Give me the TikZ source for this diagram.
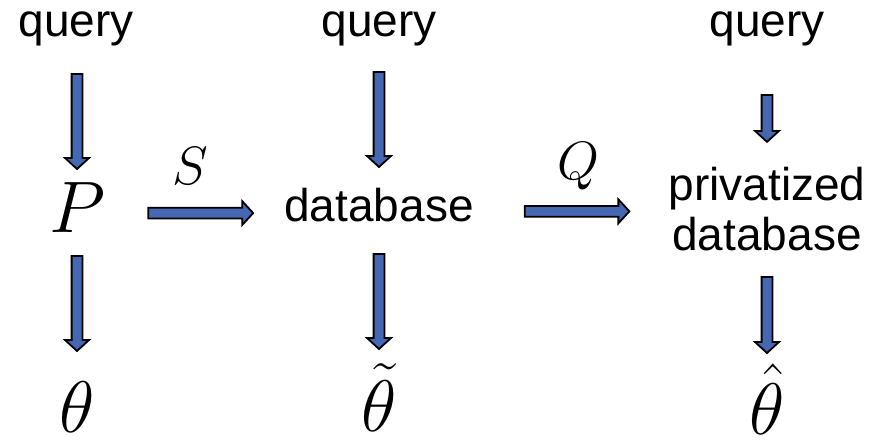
\RequirePackage{fix-cm}
\documentclass[tikz,border=0pt]{standalone}
\usepackage{amsmath}
\usepackage[no-math]{fontspec}
\setmainfont{Liberation Sans}
\usepackage{tikz}
\usetikzlibrary{calc}
\definecolor{arrowblue}{RGB}{70,104,178}
\tikzset{
  txt/.style={inner sep=0pt, font=\fontsize{46}{50}\selectfont, align=center},
  sym/.style={inner sep=0pt, font=\fontsize{54}{60}\selectfont},
  big/.style={inner sep=0pt, font=\fontsize{73}{80}\selectfont},
  blk/.style 2 args={draw=black, fill=arrowblue, line width=1.8pt, line join=miter,
    to path={
      ($(\tikztostart)!#1!(\tikztotarget)$) coordinate (ba)
      ($(\tikztotarget)!#2!(\tikztostart)$) coordinate (bb)
      ($(ba)!5.4pt!90:(bb)$) -- ($(bb)!11pt!(ba)!5.4pt!-90:(ba)$)
      -- ($(bb)!11pt!(ba)!12pt!-90:(ba)$) -- (bb)
      -- ($(bb)!11pt!(ba)!12pt!90:(ba)$) -- ($(bb)!11pt!(ba)!5.4pt!90:(ba)$)
      -- ($(ba)!5.4pt!-90:(bb)$) -- cycle}},
}

\begin{document}
\begin{tikzpicture}[x=1pt, y=-1pt]
  \useasboundingbox (0,0) rectangle (874,443);
  % top row
  \node[txt, anchor=base] (q1) at (76,37) {query};
  \node[txt, anchor=base] (q2) at (379,37) {query};
  \node[txt, anchor=base] (q3) at (767,37) {query};
  % middle row
  \node[big, anchor=base, text depth=10pt] (p) at (77,233) {$P$};
  \node[txt, anchor=base, text depth=12pt] (db) at (379,222) {database};
  \node[txt] (pdb) at (767,209) {privatized\\database};
  \node[sym, anchor=base] (s) at (190,185) {$S$};
  \node[sym, anchor=base] (q) at (578,180) {$Q$};
  % bottom row
  \node[big, anchor=base] (t1) at (77,432) {$\theta$};
  \node[big, anchor=base] (t2) at (379,431) {$\tilde{\theta}$};
  \node[big, anchor=base] (t3) at (767,434) {$\hat{\theta}$};
  % block arrows
  \draw[blk={37pt}{64pt}] (q1.base -| p.base) to (p.base);
  \draw[blk={23pt}{81pt}] (p.base) to (t1.base);
  \draw[blk={35pt}{55pt}] (q2.base) to (db.base);
  \draw[blk={32pt}{82pt}] (db.base) to (t2.base);
  \draw[blk={58pt}{25pt}] (q3.base) to (pdb.north);
  \draw[blk={26pt}{81pt}] (pdb.south) to (t3.base);
  \draw[blk={43pt}{31pt}] (p.east) to (p.east -| db.west);
  \draw[blk={51pt}{39pt}] (db.east) to (db.east -| pdb.west);
\end{tikzpicture}
\end{document}
